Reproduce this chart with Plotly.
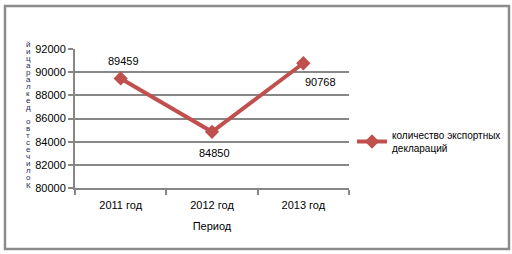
import plotly.graph_objects as go

categories = ["2011 год", "2012 год", "2013 год"]
values = [89459, 84850, 90768]
label_shift_x = [3, 2, 17]
label_shift_y = [17, -21, -19]
series_name = "количество экспортных<br>деклараций"
x_title = "Период"
y_title = "Количество деклараций"
y_ticks = [80000, 82000, 84000, 86000, 88000, 90000, 92000]

L, R, T, B = 75, 163, 49, 66
W, H = 512, 254
pw, ph = W - L - R, H - T - B

def px_x(p):
    return (p - L) / pw

def px_y(p):
    return (H - B - p) / ph

FONT = "Liberation Sans, Arial"

fig = go.Figure()
fig.add_trace(go.Scatter(
    x=categories, y=values, name=series_name,
    mode="lines+markers",
    line=dict(color="#C0504D", width=4),
    marker=dict(symbol="diamond", size=11, color="#C0504D"),
    cliponaxis=False,
))

annotations = []
for c, v, dx, dy in zip(categories, values, label_shift_x, label_shift_y):
    annotations.append(dict(
        text=str(v), x=c, y=v, xref="x", yref="y", showarrow=False,
        xshift=dx, yshift=dy, xanchor="center", yanchor="middle",
        font=dict(family=FONT, size=11, color="#000000"),
    ))

letters = list(y_title)
n = len(letters)
top_px, bot_px = 44, 185
for i, ch in enumerate(letters):
    py = bot_px - i * (bot_px - top_px) / (n - 1)
    annotations.append(dict(
        text=ch, x=px_x(28), y=px_y(py), xref="paper", yref="paper",
        showarrow=False, xanchor="center", yanchor="middle",
        font=dict(family=FONT, size=8, color="#1F2A5C"),
    ))

fig.update_layout(
    width=W, height=H,
    margin=dict(l=L, r=R, t=T, b=B, autoexpand=False),
    paper_bgcolor="white", plot_bgcolor="white",
    showlegend=True,
    legend=dict(x=px_x(352), y=px_y(122), xanchor="left", yanchor="top",
                font=dict(family=FONT, size=10, color="#000000"),
                bgcolor="rgba(0,0,0,0)", itemwidth=30, tracegroupgap=0),
    annotations=annotations,
    shapes=[dict(type="rect", xref="paper", yref="paper",
                 x0=px_x(5), x1=px_x(509), y0=px_y(249), y1=px_y(6),
                 line=dict(color="#8C8C8C", width=2.5), layer="below")],
    xaxis=dict(
        range=[-0.5, 2.5],
        title=dict(text=x_title, font=dict(family=FONT, size=11, color="#000"), standoff=12),
        showline=True, linecolor="#878787", linewidth=2,
        ticks="outside", ticklen=5, tickcolor="#878787", tickwidth=2,
        tickson="boundaries", showgrid=False, ticklabelstandoff=6,
        tickfont=dict(family=FONT, size=11, color="#000"),
    ),
    yaxis=dict(
        range=[80000, 92000], tickvals=y_ticks, ticktext=[str(v) for v in y_ticks],
        showline=True, linecolor="#878787", linewidth=2,
        ticks="outside", ticklen=5, tickcolor="#878787", tickwidth=2,
        showgrid=True, gridcolor="#878787", gridwidth=2, zeroline=False,
        tickfont=dict(family=FONT, size=11, color="#000"),
    ),
)

fig.write_html("out.html")
